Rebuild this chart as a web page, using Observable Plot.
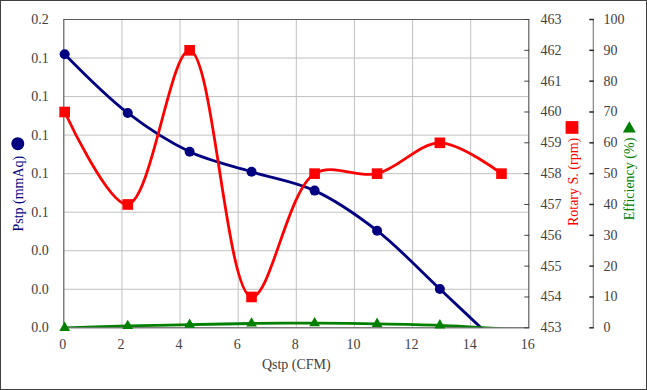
<!DOCTYPE html>
<html><head><meta charset="utf-8">
<script src="https://cdn.jsdelivr.net/npm/d3@7"></script>
<script src="https://cdn.jsdelivr.net/npm/@observablehq/plot@0.6"></script>
<style>
body{margin:0;background:#fff}
#chart{width:647px;height:390px;box-sizing:border-box;border:1px solid #404040;background:#fff;overflow:hidden}
#chart svg{display:block}
#chart svg text{font-family:"Liberation Serif","Times New Roman",serif !important}
</style></head><body><div id="chart"></div>
<script>
// ---- data ----
const qstp = [0.03, 2.2, 4.33, 6.46, 8.63, 10.78, 12.94, 15.06];
const pstp = [0.142, 0.1115, 0.0914, 0.081, 0.0712, 0.0504, 0.0201, -0.010];
const rpm  = [460, 457, 462, 454, 458, 458, 459, 458];
const eff  = [0, 0.6, 1.0, 1.4, 1.5, 1.3, 0.8, -0.3];

const xTicks = [0, 2, 4, 6, 8, 10, 12, 14, 16];
const pstpTicks = [0, 0.02, 0.04, 0.06, 0.08, 0.10, 0.12, 0.14, 0.16];
const rpmTicks = [453, 454, 455, 456, 457, 458, 459, 460, 461, 462, 463];
const effTicks = [0, 10, 20, 30, 40, 50, 60, 70, 80, 90, 100];

const xTitle = "Qstp (CFM)";
const pstpTitle = "Pstp (mmAq)";
const rpmTitle = "Rotary S. (rpm)";
const effTitle = "Efficiency (%)";

// ---- scale conversions to the primary axis ----
const yMax = pstpTicks[pstpTicks.length - 1];
const rpmToY = v => (v - rpmTicks[0]) / (rpmTicks[rpmTicks.length - 1] - rpmTicks[0]) * yMax;
const effToY = v => (v - effTicks[0]) / (effTicks[effTicks.length - 1] - effTicks[0]) * yMax;

const rows = qstp.map((q, i) => ({q, p: pstp[i], r: rpm[i], e: eff[i]}));

const NAVY = "#000080", RED = "#ff0000", GREEN = "#008000", TXT = "#404040";
const FS = 14;
const FF = "Liberation Serif";

const chart = Plot.plot({
  width: 645, height: 388,
  marginLeft: 62.3, marginRight: 117.7, marginTop: 18, marginBottom: 61.7,
  x: {domain: [xTicks[0], xTicks[xTicks.length - 1]]},
  y: {domain: [0, yMax]},
  style: {fontFamily: FF, fontSize: "14px", background: "white"},
  marks: [
    Plot.gridY(pstpTicks, {stroke: "#c0c0c0", strokeOpacity: 1}),
    Plot.gridX(xTicks, {stroke: "#c0c0c0", strokeOpacity: 1}),
    Plot.frame({stroke: "#595959"}),
    // left axis
    Plot.axisY(pstpTicks, {anchor: "left", tickSize: 0, tickPadding: 15, tickFormat: d => d.toFixed(1), fontSize: FS, fontFamily: FF, fill: TXT, label: null}),
    // bottom axis
    Plot.axisX(xTicks, {anchor: "bottom", tickSize: 0, tickPadding: 11, dx: -1, tickFormat: d => String(d), fontSize: FS, fontFamily: FF, fill: TXT, label: null}),
    // rpm axis (right, inward ticks)
    Plot.axisY(rpmTicks, {anchor: "right", y: rpmToY, tickSize: -5, tickPadding: 16.7, tickFormat: d => String(d), fontSize: FS, fontFamily: FF, fill: TXT, stroke: "#404040", label: null}),
    // efficiency axis
    Plot.ruleX([xTicks[xTicks.length - 1]], {dx: 64.5, y1: 0, y2: yMax, stroke: "#808080", strokeWidth: 1.2}),
    Plot.axisY(effTicks, {anchor: "right", y: effToY, dx: 64.5, tickSize: -4.5, tickPadding: 14.6, tickFormat: d => String(d), fontSize: FS, fontFamily: FF, fill: TXT, stroke: "#262626", strokeWidth: 1.5, label: null}),
    // series
    Plot.line(rows, {x: "q", y: "p", stroke: NAVY, strokeWidth: 2.8, curve: "catmull-rom", clip: true}),
    Plot.dot(rows, {filter: d => d.p >= 0, x: "q", y: "p", r: 5, fill: NAVY}),
    Plot.line(rows, {x: "q", y: d => rpmToY(d.r), stroke: RED, strokeWidth: 2.8, curve: "catmull-rom", clip: true}),
    Plot.dot(rows, {x: "q", y: d => rpmToY(d.r), r: 6, symbol: "square", fill: RED}),
    Plot.line(rows, {x: "q", y: d => effToY(d.e), stroke: GREEN, strokeWidth: 2.8, curve: "catmull-rom", clip: true}),
    Plot.dot(rows, {filter: d => d.e >= 0, x: "q", y: d => effToY(d.e), r: 4, symbol: "triangle", fill: GREEN}),
    // titles
    Plot.text([xTitle], {frameAnchor: "bottom", textAnchor: "middle", dy: 40.7, fontSize: FS, fontFamily: FF, fill: TXT}),
    Plot.text([pstpTitle], {frameAnchor: "left", textAnchor: "middle", dx: -45.5, dy: 20, rotate: -90, fontSize: FS, fontFamily: FF, fill: NAVY}),
    Plot.dot([pstpTitle], {frameAnchor: "left", dx: -46, dy: -30, r: 6.5, fill: NAVY}),
    Plot.text([rpmTitle], {frameAnchor: "right", textAnchor: "middle", dx: 44.4, dy: 8.3, rotate: -90, fontSize: FS, fontFamily: FF, fill: RED}),
    Plot.dot([rpmTitle], {frameAnchor: "right", dx: 43.2, dy: -46.2, r: 7.2, symbol: "square", fill: RED}),
    Plot.text([effTitle], {frameAnchor: "right", textAnchor: "middle", dx: 101, dy: 5.3, rotate: -90, fontSize: FS, fontFamily: FF, fill: GREEN}),
    Plot.dot([effTitle], {frameAnchor: "right", dx: 100.5, dy: -45, r: 4.8, symbol: "triangle", fill: GREEN})
  ]
});
document.getElementById("chart").appendChild(chart);
</script></body></html>
